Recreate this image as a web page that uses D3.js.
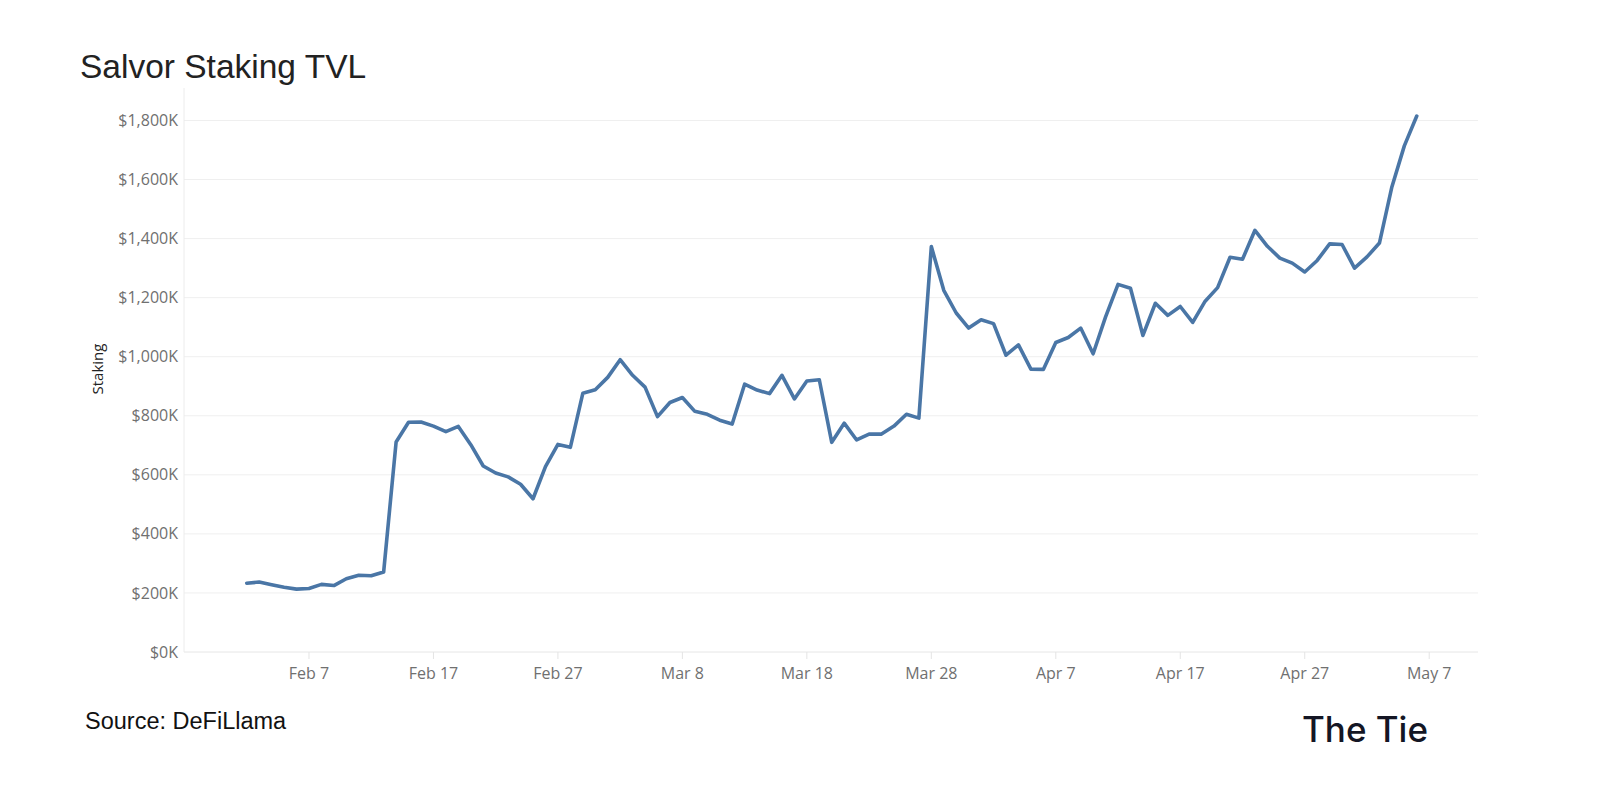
<!DOCTYPE html>
<html><head><meta charset="utf-8">
<script src="https://cdn.jsdelivr.net/npm/d3@7/dist/d3.min.js"></script>
<style>body{margin:0;background:#fff}svg{display:block}</style>
</head><body>
<svg id="c" width="1600" height="800"></svg>
<script>
const startDate = "2024-02-02";
const stakingK = [233,237,228,219,213,215,229,225,248,260,258,271,711,778,779,765,746,764,702,630,
606,593,568,519,628,703,693,876,888,930,990,937,897,797,845,862,815,805,785,772,
907,887,875,937,857,918,922,710,775,718,738,738,765,805,792,1373,1225,1148,1097,1125,
1112,1005,1040,958,957,1048,1065,1097,1010,1135,1245,1232,1072,1181,1140,1170,1116,1188,1234,1337,
1330,1428,1374,1334,1317,1287,1326,1382,1380,1300,1338,1385,1575,1714,1815];
const yTicks = [0,200,400,600,800,1000,1200,1400,1600,1800];
const xTickDates = ["2024-02-07","2024-02-17","2024-02-27","2024-03-08","2024-03-18","2024-03-28","2024-04-07","2024-04-17","2024-04-27","2024-05-07"];
const xTickLabels = ["Feb 7","Feb 17","Feb 27","Mar 8","Mar 18","Mar 28","Apr 7","Apr 17","Apr 27","May 7"];

const parse = d3.utcParse("%Y-%m-%d");
const t0 = parse(startDate);
const data = stakingK.map((v,i)=>({date:d3.utcDay.offset(t0,i), v}));

const svg = d3.select("#c");
const x = d3.scaleUtc().domain([parse("2024-01-28"), parse("2024-05-11")]).range([184.5, 1479]);
const y = d3.scaleLinear().domain([0,1910]).range([652,88]);

// gridlines
svg.append("g").selectAll("line").data(yTicks).join("line")
  .attr("x1",184).attr("x2",1478)
  .attr("y1",d=>y(d)).attr("y2",d=>y(d))
  .attr("stroke",d=>d===0?"#e6e6e6":"#efefef").attr("stroke-width",1);
// left axis line
svg.append("line").attr("x1",184).attr("x2",184).attr("y1",88).attr("y2",652)
  .attr("stroke","#ececec").attr("stroke-width",1);

// y labels
svg.append("g").selectAll("text").data(yTicks).join("text")
  .attr("x",178).attr("y",d=>y(d)).attr("dy","0.35em")
  .attr("text-anchor","end")
  .attr("font-family","'Open Sans', 'Noto Sans', sans-serif").attr("font-size",16)
  .attr("fill","#707070")
  .text(d=>"$"+d3.format(",")(d)+"K");
// y axis title
svg.append("text").attr("transform","translate(103,369) rotate(-90)")
  .attr("text-anchor","middle")
  .attr("font-family","'Open Sans', sans-serif").attr("font-size",15)
  .attr("fill","#222").text("Staking");

// x ticks & labels
const xt = xTickDates.map((d,i)=>({d:parse(d), l:xTickLabels[i]}));
svg.append("g").selectAll("line").data(xt).join("line")
  .attr("x1",d=>x(d.d)).attr("x2",d=>x(d.d)).attr("y1",652).attr("y2",659)
  .attr("stroke","#e4e4e4");
svg.append("g").selectAll("text").data(xt).join("text")
  .attr("x",d=>x(d.d)).attr("y",673).attr("dy","0.35em").attr("text-anchor","middle")
  .attr("font-family","'Open Sans', 'Noto Sans', sans-serif").attr("font-size",16)
  .attr("fill","#707070").text(d=>d.l);

// line
svg.append("path").datum(data)
  .attr("d", d3.line().x(d=>x(d.date)).y(d=>y(d.v)))
  .attr("fill","none").attr("stroke","#4a76a6").attr("stroke-width",3.6)
  .attr("stroke-linejoin","round").attr("stroke-linecap","round");

// title
svg.append("text").attr("x",80).attr("y",78)
  .attr("font-family","'Liberation Sans', Arial, sans-serif").attr("font-size",33.5)
  .attr("fill","#222").text("Salvor Staking TVL");
// source
svg.append("text").attr("x",85).attr("y",729)
  .attr("font-family","'Liberation Sans', Arial, sans-serif").attr("font-size",23.5)
  .attr("fill","#111").text("Source: DeFiLlama");
// logo
svg.append("text").attr("x",1302).attr("y",742)
  .attr("font-family","Inter, Roboto, sans-serif").attr("font-size",35).attr("font-weight",500)
  .attr("fill","#141624").attr("textLength",126).attr("lengthAdjust","spacingAndGlyphs").text("The Tie");
</script>
</body></html>
